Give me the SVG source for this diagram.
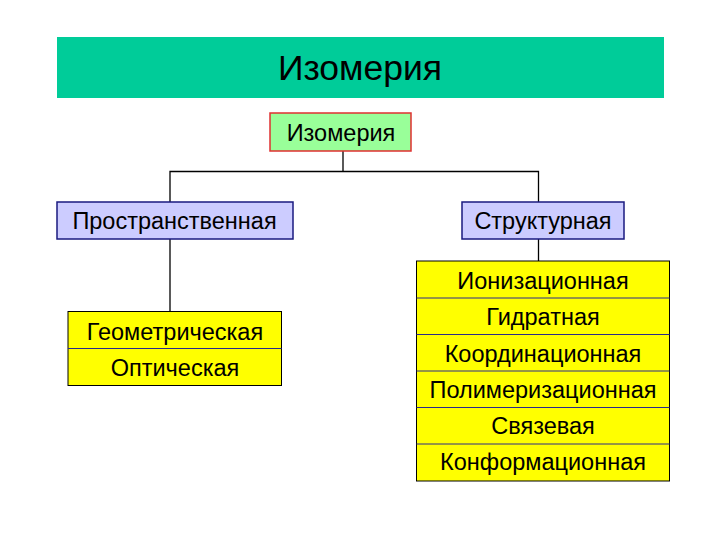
<svg xmlns="http://www.w3.org/2000/svg" width="720" height="540" viewBox="0 0 720 540">
<style>
text{font-family:"Liberation Sans",Arial,sans-serif;fill:#000;text-anchor:middle}
.t{font-size:23.5px}
.list{fill:#FFFF00;stroke:#000;stroke-width:1}
.div{stroke:#2a2a8a;stroke-width:1}
.sub{fill:#CCCCFF;stroke:#1a1a80;stroke-width:1.5}
.conn{fill:none;stroke:#000;stroke-width:1.3}
</style>
<rect width="720" height="540" fill="#fff"/>
<g id="header">
<rect x="57" y="37" width="607" height="61" fill="#00CC99"/>
<text x="360" y="80" style="font-size:35.5px">Изомерия</text>
</g>
<g id="connectors">
<polyline class="conn" points="343,151 343,171.5"/>
<polyline class="conn" points="170,202 170,171.5 538.5,171.5 538.5,202"/>
<line class="conn" x1="170" y1="239" x2="170" y2="311"/>
<line class="conn" x1="538.5" y1="239" x2="538.5" y2="261"/>
</g>
<g id="root">
<rect x="270" y="113" width="141" height="38" fill="#99FF99" stroke="#E03030" stroke-width="1.5"/>
<text class="t" x="341" y="140.5">Изомерия</text>
</g>
<g id="spatial">
<rect class="sub" x="57" y="202" width="236" height="37"/>
<text class="t" x="174.5" y="228.5">Пространственная</text>
</g>
<g id="structural">
<rect class="sub" x="462" y="202" width="162" height="37"/>
<text class="t" x="543" y="228.5">Структурная</text>
</g>
<g id="spatial-list">
<rect class="list" x="68" y="311.5" width="213.5" height="74"/>
<line class="div" x1="68" y1="348.5" x2="281.5" y2="348.5"/>
<text class="t" x="175" y="339.5">Геометрическая</text>
<text class="t" x="175" y="375.5">Оптическая</text>
</g>
<g id="structural-list">
<rect class="list" x="416.5" y="261" width="253" height="220"/>
<line class="div" x1="416.5" y1="298" x2="669.5" y2="298"/>
<line class="div" x1="416.5" y1="334.5" x2="669.5" y2="334.5"/>
<line class="div" x1="416.5" y1="371" x2="669.5" y2="371"/>
<line class="div" x1="416.5" y1="407.5" x2="669.5" y2="407.5"/>
<line class="div" x1="416.5" y1="444" x2="669.5" y2="444"/>
<text class="t" x="543" y="288.5">Ионизационная</text>
<text class="t" x="543" y="325">Гидратная</text>
<text class="t" x="543" y="361.5">Координационная</text>
<text class="t" x="543" y="397.5">Полимеризационная</text>
<text class="t" x="543" y="433.5">Связевая</text>
<text class="t" x="543" y="470">Конформационная</text>
</g>
</svg>
